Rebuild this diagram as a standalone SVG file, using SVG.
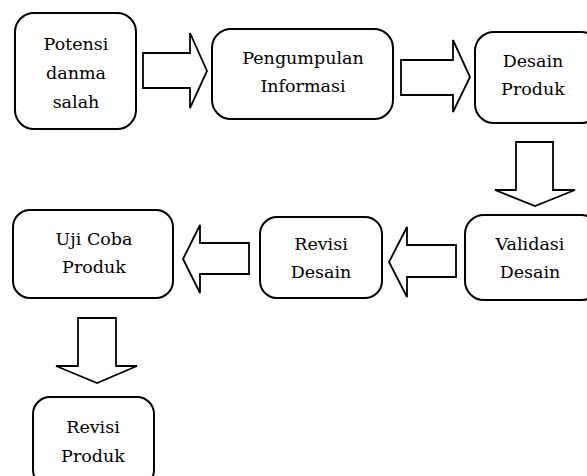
<svg xmlns="http://www.w3.org/2000/svg" width="587" height="476" viewBox="0 0 587 476">
<style>
.box{fill:#fff;stroke:#000;stroke-width:2}
.arr{fill:#fff;stroke:#000;stroke-width:1.8;stroke-linejoin:miter}
text{font-family:"DejaVu Serif","Liberation Serif",serif;font-size:17.5px;fill:#000;text-anchor:middle}
</style>
<rect width="587" height="476" fill="#fff"/>
<g id="connectors">
<polygon class="arr" points="143,53 190,53 190,33 207,71 190,108 190,88 143,88"/>
<polygon class="arr" points="401,60 453,60 453,40 470,77 453,112 453,95 401,95"/>
<polygon class="arr" points="516,142 553,142 553,190 575,190 535,206 495,190 516,190"/>
<polygon class="arr" points="456,245 407,245 407,227 389,262 407,297 407,277 456,277"/>
<polygon class="arr" points="249,243 200,243 200,225 183,259 200,293 200,274 249,274"/>
<polygon class="arr" points="78,318 116,318 116,366 137,366 97,383 56,366 78,366"/>
</g>
<g id="n1"><rect class="box" x="15" y="13" width="121" height="116" rx="19"/>
<text x="76" y="50">Potensi</text><text x="76" y="79">danma</text><text x="76" y="108">salah</text></g>
<g id="n2"><rect class="box" x="212" y="29" width="181" height="90" rx="19"/>
<text x="303" y="64">Pengumpulan</text><text x="303" y="92">Informasi</text></g>
<g id="n3"><rect class="box" x="475" y="32" width="125" height="91" rx="19"/>
<text x="533" y="67">Desain</text><text x="533" y="95">Produk</text></g>
<g id="n4"><rect class="box" x="465" y="215" width="135" height="85" rx="19"/>
<text x="530" y="250">Validasi</text><text x="530" y="278">Desain</text></g>
<g id="n5"><rect class="box" x="260" y="217" width="122" height="81" rx="17"/>
<text x="321" y="250">Revisi</text><text x="321" y="278">Desain</text></g>
<g id="n6"><rect class="box" x="13" y="210" width="160" height="88" rx="17"/>
<text x="94" y="245">Uji Coba</text><text x="94" y="273">Produk</text></g>
<g id="n7"><rect class="box" x="33" y="397" width="121" height="90" rx="17"/>
<text x="93" y="433">Revisi</text><text x="93" y="462">Produk</text></g>
</svg>
